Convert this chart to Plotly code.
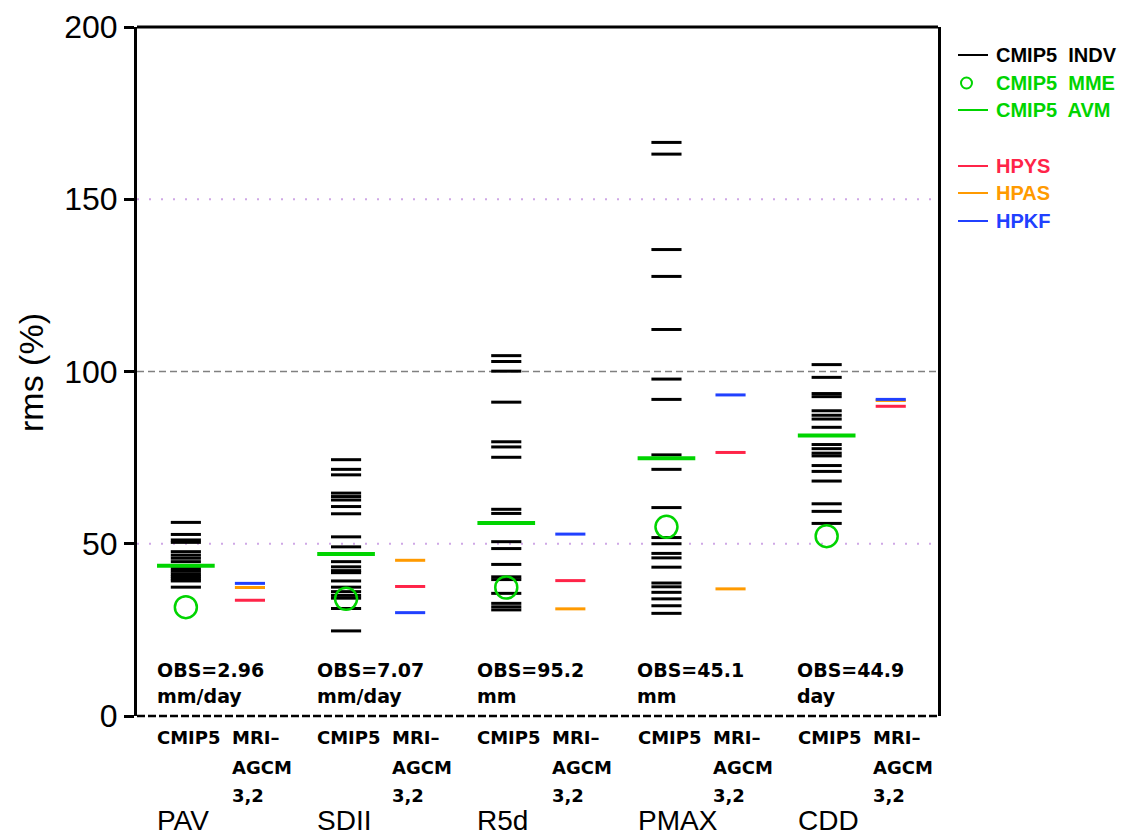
import plotly.graph_objects as go

# ---------------- data ----------------
groups = ["PAV", "SDII", "R5d", "PMAX", "CDD"]
obs_values = ["OBS=2.96", "OBS=7.07", "OBS=95.2", "OBS=45.1", "OBS=44.9"]
obs_units = ["mm/day", "mm/day", "mm", "mm", "day"]

pav_indv = [56.2, 52.7, 51.1, 50.4, 47.7, 46.7, 45.8, 44.8, 42.8, 42.0, 41.2,
            40.5, 39.8, 39.2, 37.4]
sdii_indv = [74.4, 71.6, 70.0, 64.7, 63.7, 62.7, 60.8, 58.7, 52.0, 49.1, 44.8,
             43.3, 42.2, 41.6, 39.2, 37.4, 36.1, 35.0, 34.2, 31.2, 24.7]
r5d_indv = [104.6, 102.9, 100.1, 91.1, 79.6, 78.1, 75.1, 60.0, 58.8, 50.6,
            48.6, 44.0, 40.4, 39.6, 35.6, 32.7, 31.7, 30.8]
pmax_indv = [166.5, 163.1, 135.4, 127.6, 112.2, 97.8, 91.9, 75.8, 71.6, 60.5,
             51.8, 50.0, 47.2, 45.9, 43.2, 38.6, 37.5, 35.9, 34.0, 32.0, 29.8]
cdd_indv = [102.0, 98.3, 93.6, 92.7, 88.6, 87.3, 86.2, 83.8, 78.8, 77.6, 76.3,
            75.5, 72.7, 71.0, 68.2, 61.6, 59.4, 55.9]

cmip5_mme = [31.6, 34.0, 37.3, 54.9, 52.2]
cmip5_avm = [43.6, 47.0, 56.0, 74.8, 81.4]

hpys = [33.6, 37.6, 39.3, 76.5, 89.9]
hpas = [37.3, 45.2, 31.1, 36.9, 91.6]
hpkf = [38.5, 30.0, 52.8, 93.2, 91.9]

y_ticks = [0, 50, 100, 150, 200]

# ---------------- style ----------------
FONT = "Liberation Sans"
BFONT = "DejaVu Sans"
GREEN = "#00d400"
C_HPYS = "#ff2448"
C_HPAS = "#ff9a00"
C_HPKF = "#2040ff"

CM_OFF = 0.305
MRI_OFF = 0.705
HW = 0.094
AVM_HW = 0.18

# page offset from default body margin
OFF = 8
W, H = 1126 - OFF, 839 - OFF
PL, PR, PT, PB = 137, 938, 27, 716      # plot area in page pixels
L, T = PL - OFF, PT - OFF
R, B = W - (PR - OFF), H - (PB - OFF)
PW, PH = PR - PL, PB - PT


def px(xp):
    return (xp - PL) / PW


def py(yp):
    return (PB - yp) / PH


def seg(centers, values, hw):
    xs, ys = [], []
    for c, v in zip(centers, values):
        xs += [c - hw, c + hw, None]
        ys += [v, v, None]
    return xs, ys


fig = go.Figure()

indv_all = [pav_indv, sdii_indv, r5d_indv, pmax_indv, cdd_indv]
xs, ys = [], []
for i, vals in enumerate(indv_all):
    sx, sy = seg([i + CM_OFF] * len(vals), vals, HW)
    xs += sx
    ys += sy
fig.add_trace(go.Scatter(x=xs, y=ys, mode="lines", line=dict(color="black", width=3),
                         name="CMIP5 INDV", showlegend=False, hoverinfo="skip"))

sx, sy = seg([i + CM_OFF for i in range(5)], cmip5_avm, AVM_HW)
fig.add_trace(go.Scatter(x=sx, y=sy, mode="lines", line=dict(color=GREEN, width=4),
                         name="CMIP5 AVM", showlegend=False))

fig.add_trace(go.Scatter(x=[i + CM_OFF for i in range(5)], y=cmip5_mme, mode="markers",
                         marker=dict(symbol="circle-open", size=22, color=GREEN,
                                     line=dict(width=2.5, color=GREEN)),
                         name="CMIP5 MME", showlegend=False))

for vals, col, nm in [(hpas, C_HPAS, "HPAS"), (hpys, C_HPYS, "HPYS"), (hpkf, C_HPKF, "HPKF")]:
    sx, sy = seg([i + MRI_OFF for i in range(5)], vals, HW)
    fig.add_trace(go.Scatter(x=sx, y=sy, mode="lines", line=dict(color=col, width=3),
                             name=nm, showlegend=False))

shapes = []
for v in [50, 150]:
    shapes.append(dict(type="line", xref="paper", yref="y", x0=0, x1=1, y0=v, y1=v,
                       line=dict(color="#cfa8e6", width=2, dash="2px,10px"), layer="below"))
shapes.append(dict(type="line", xref="paper", yref="y", x0=0, x1=1, y0=100, y1=100,
                   line=dict(color="#808080", width=1.5, dash="7px,4px"), layer="below"))
shapes.append(dict(type="line", xref="paper", yref="paper", x0=0, x1=1, y0=1, y1=1,
                   line=dict(color="black", width=3)))
shapes.append(dict(type="line", xref="paper", yref="paper", x0=0, x1=1, y0=0, y1=0,
                   line=dict(color="black", width=2.5, dash="8px,3px")))

annotations = []
leg_rows = [("CMIP5  INDV", "black", 55, "line"),
            ("CMIP5  MME", GREEN, 83, "circle"),
            ("CMIP5  AVM", GREEN, 110, "line"),
            ("HPYS", C_HPYS, 166, "line"),
            ("HPAS", C_HPAS, 193, "line"),
            ("HPKF", C_HPKF, 221, "line")]
for text, col, yy, kind in leg_rows:
    if kind == "line":
        shapes.append(dict(type="line", xref="paper", yref="paper", x0=px(958), x1=px(988),
                           y0=py(yy), y1=py(yy), line=dict(color=col, width=2)))
    else:
        shapes.append(dict(type="circle", xref="paper", yref="paper", x0=px(961), x1=px(972),
                           y0=py(yy + 5.5), y1=py(yy - 5.5), line=dict(color=col, width=2)))
    annotations.append(dict(text=text, xref="paper", yref="paper", x=px(994), y=py(yy),
                            xanchor="left", yanchor="middle", showarrow=False,
                            font=dict(family=FONT, size=20, color=col, weight="bold")))


def lab(text, x, y, size, bold=True):
    return dict(text=text, xref="x", yref="paper", x=x, y=py(y), xanchor="left",
                yanchor="middle", showarrow=False,
                font=dict(family=BFONT if bold else FONT, size=size, color="black",
                          weight="bold" if bold else "normal"))


for i in range(5):
    annotations.append(lab(obs_values[i], i + 0.11, 670, 19))
    annotations.append(lab(obs_units[i], i + 0.11, 696, 19))
    annotations.append(lab("CMIP5", i + 0.112, 738, 18))
    annotations.append(lab("MRI\u2013", i + 0.58, 738, 18))
    annotations.append(lab("AGCM", i + 0.58, 767, 18))
    annotations.append(lab("3,2", i + 0.58, 795, 18))
    annotations.append(lab(groups[i], i + 0.112, 820, 28, bold=False))

annotations.append(dict(text="rms (%)", xref="paper", yref="paper", x=px(31), y=py(373),
                        xanchor="center", yanchor="middle", textangle=-90, showarrow=False,
                        font=dict(family=FONT, size=34, color="black")))

fig.update_layout(
    width=W, height=H,
    margin=dict(l=L, r=R, t=T, b=B, pad=0, autoexpand=False),
    paper_bgcolor="white", plot_bgcolor="white",
    showlegend=False,
    shapes=shapes, annotations=annotations,
    xaxis=dict(range=[0, 5], showticklabels=False, showgrid=False, zeroline=False,
               showline=False, ticks="", automargin=False),
    yaxis=dict(range=[0, 200], tickvals=y_ticks, showgrid=False, zeroline=False,
               showline=True, linecolor="black", linewidth=3, mirror=True,
               ticks="outside", ticklen=10, tickwidth=3, tickcolor="black",
               automargin=False,
               tickfont=dict(family=FONT, size=32, color="black")),
)

fig.write_html("out.html")
